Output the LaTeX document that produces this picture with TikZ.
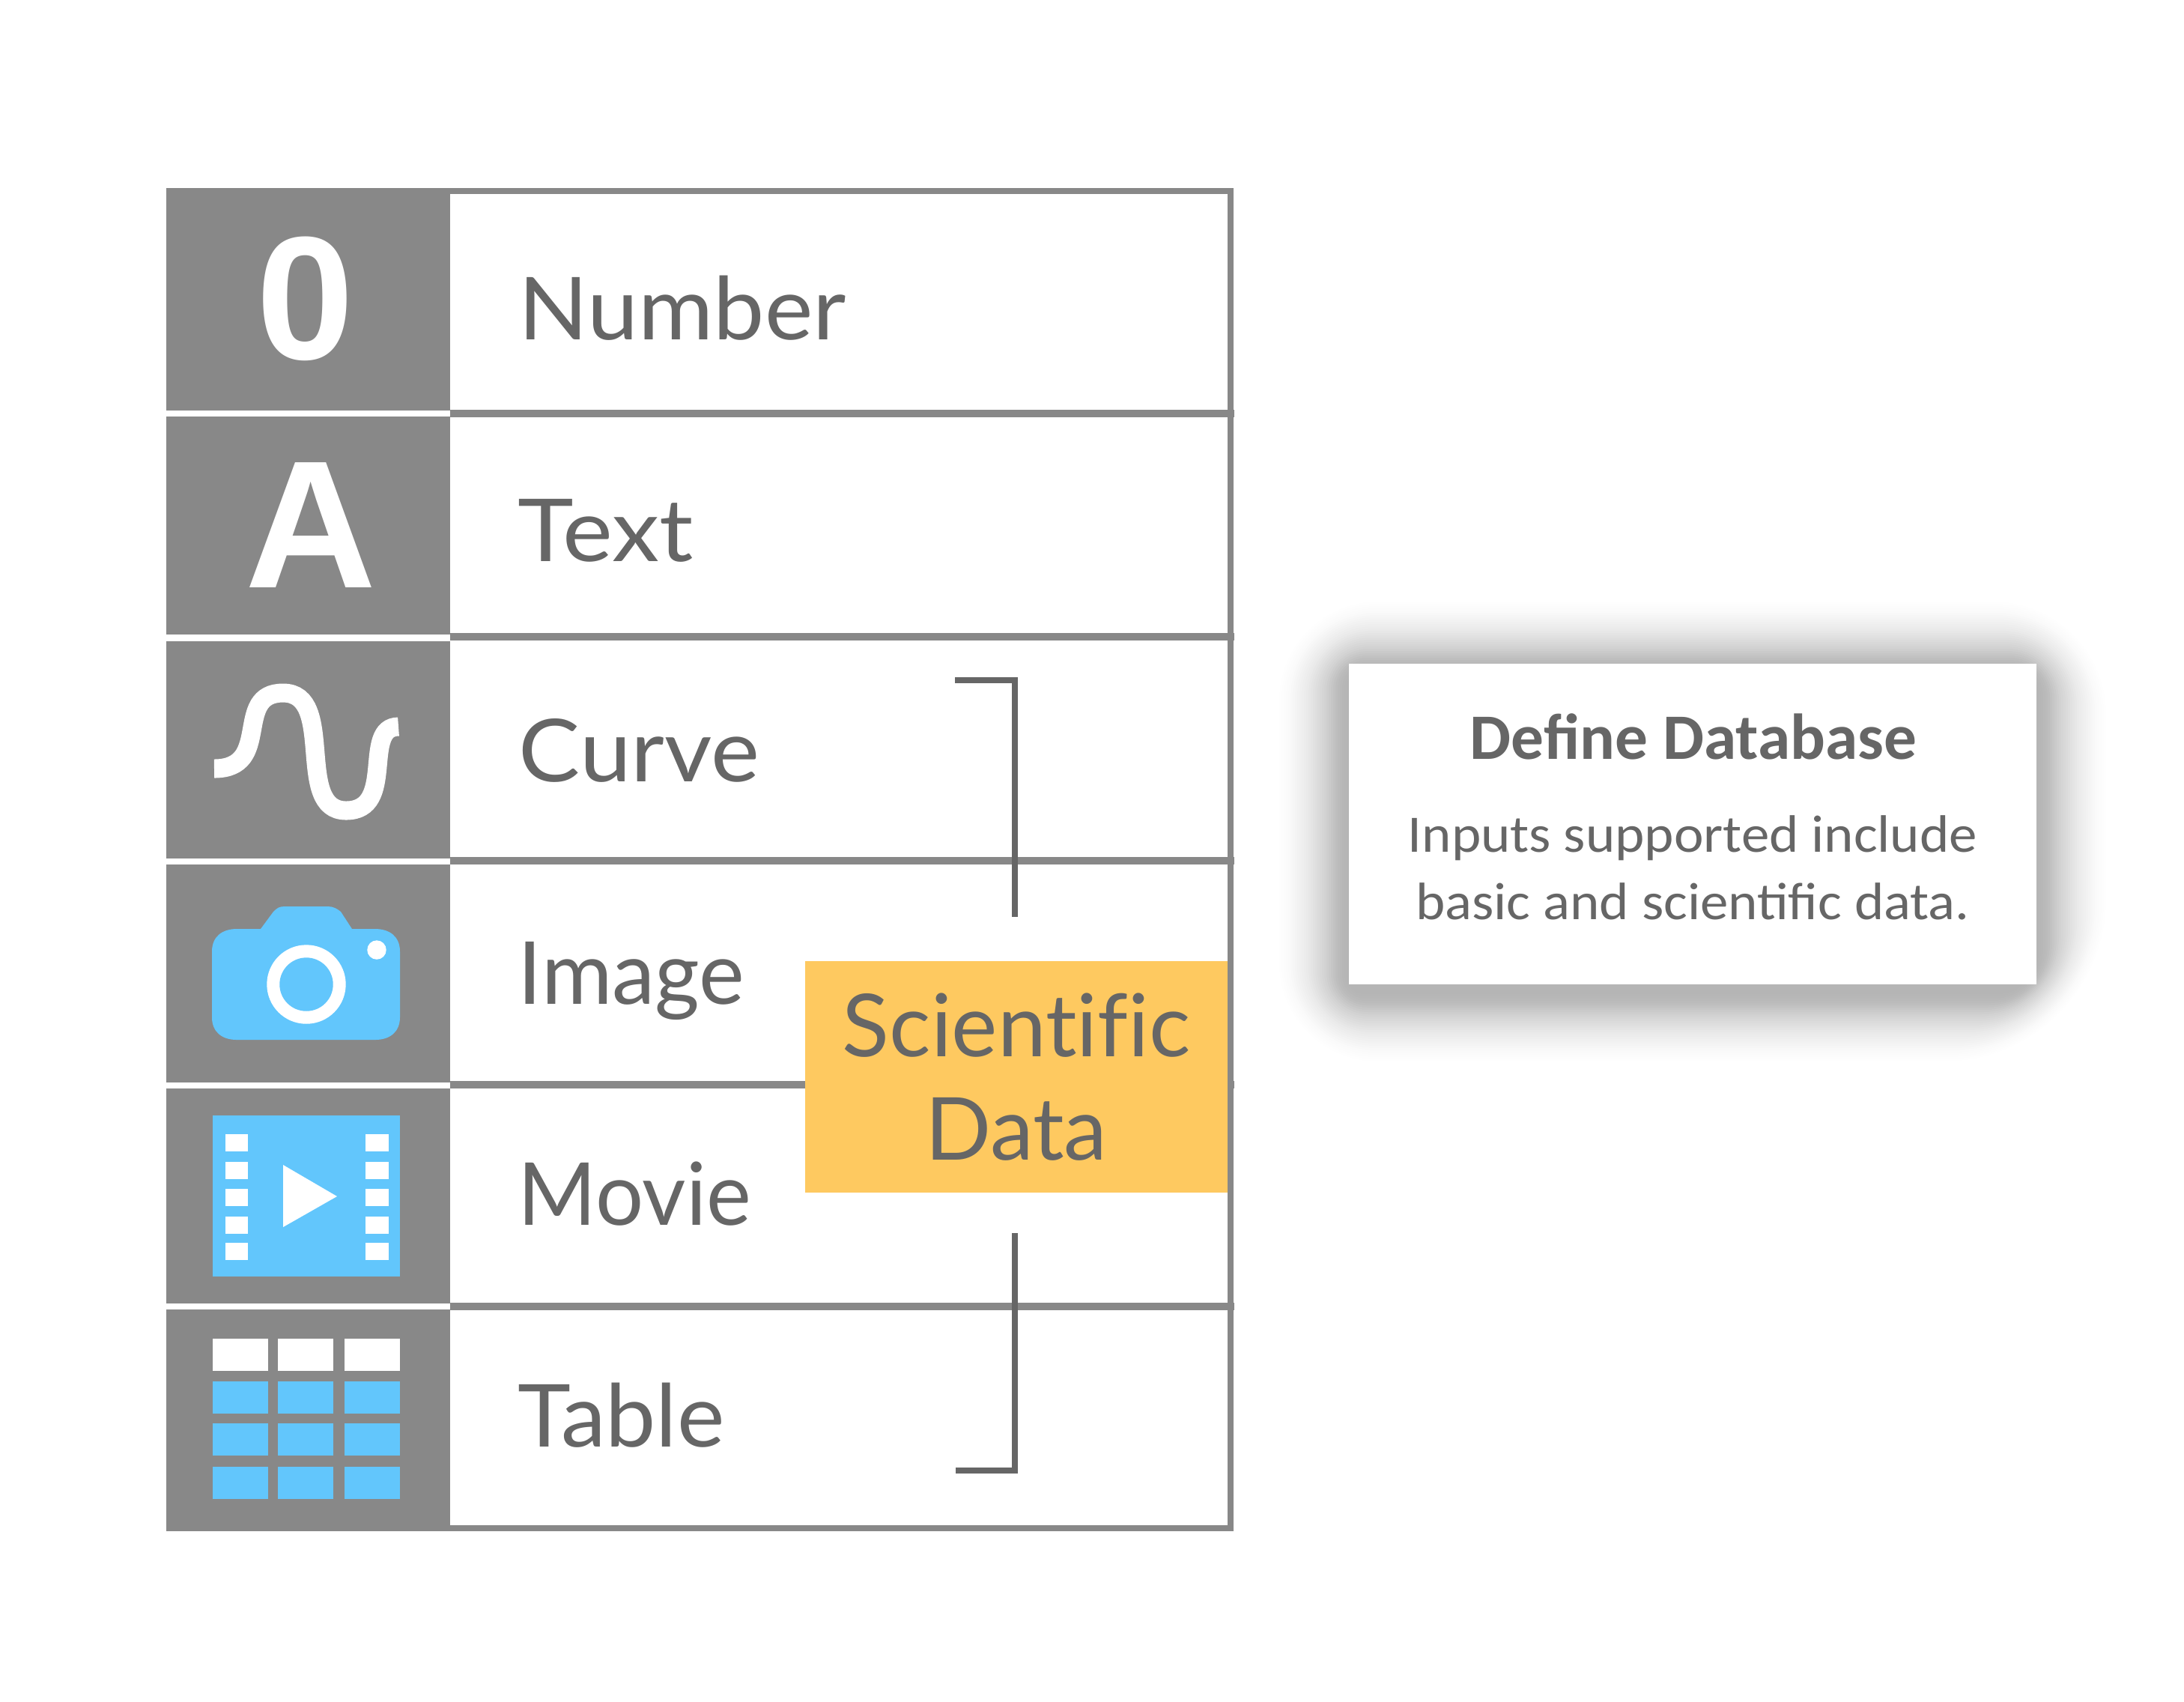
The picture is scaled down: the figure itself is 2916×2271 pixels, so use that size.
\documentclass[tikz,border=0pt]{standalone}
\usepackage{fontspec}
\setmainfont{Carlito}
\newfontfamily\labelfont[Ligatures=NoCommon]{Lato}
\newfontfamily\glyphfont{Liberation Sans}
\definecolor{cellgray}{HTML}{888888}
\definecolor{textgray}{HTML}{666666}
\definecolor{iconblue}{HTML}{62C6FC}
\definecolor{boxyellow}{HTML}{FEC960}
\tikzset{
  rowline/.style={cellgray, line width=0.1cm},
  bracketline/.style={textgray, line width=0.085cm},
  rowlabel/.style={anchor=base west, inner sep=0pt, text=textgray, font=\labelfont\fontsize{33pt}{40pt}\selectfont},
  rowglyph/.style={anchor=base, inner sep=0pt, text=white, font=\glyphfont\bfseries\fontsize{66.6pt}{70pt}\selectfont},
  paneltext/.style={anchor=base, inner sep=0pt, text=textgray, font=\fontsize{20pt}{24pt}\selectfont}
}
\begin{document}
\begin{tikzpicture}[x=0.01cm, y=-0.01cm]
    \useasboundingbox (0, 0) rectangle (2916, 2271);
    % Icon column
    \fill [cellgray] (222, 251) rectangle (601, 548);
    \fill [cellgray] (222, 556) rectangle (601, 847);
    \fill [cellgray] (222, 856) rectangle (601, 1146);
    \fill [cellgray] (222, 1154) rectangle (601, 1445);
    \fill [cellgray] (222, 1453) rectangle (601, 1740);
    \fill [cellgray] (222, 1748) rectangle (601, 2044);
    % Row lines
    \draw [rowline, line width=0.08cm] (601, 255) -- (1647, 255);
    \draw [rowline] (601, 552) -- (1648, 552);
    \draw [rowline] (601, 850) -- (1648, 850);
    \draw [rowline] (601, 1149) -- (1648, 1149);
    \draw [rowline] (601, 1448) -- (1648, 1448);
    \draw [rowline] (601, 1744) -- (1648, 1744);
    \draw [rowline, line width=0.08cm] (601, 2040) -- (1647, 2040);
    \draw [rowline, line width=0.08cm] (1643, 251) -- (1643, 2044);
    % Glyphs
    \node [rowglyph] (zeroglyph) at (408, 479) {0};
    \node [rowglyph, font=\glyphfont\bfseries\fontsize{69pt}{70pt}\selectfont] (aglyph) at (415, 784) {A};
    \draw [white, line width=0.25cm] (286, 1026) .. controls (365, 1026) and (310, 925) .. (378, 925)
        .. controls (450, 925) and (392, 1082) .. (462, 1082)
        .. controls (530, 1082) and (482, 970) .. (532, 970);
    % Camera
    \fill [iconblue] (348, 1240) -- (365, 1217) .. controls (370, 1212) and (373, 1210) .. (380, 1210)
        -- (438, 1210) .. controls (445, 1210) and (450, 1213) .. (455, 1217) -- (470, 1240)
        -- (501, 1240) .. controls (520, 1240) and (534, 1250) .. (534, 1270)
        -- (534, 1358) .. controls (534, 1378) and (520, 1388) .. (501, 1388)
        -- (316, 1388) .. controls (297, 1388) and (283, 1378) .. (283, 1358)
        -- (283, 1270) .. controls (283, 1250) and (297, 1240) .. (316, 1240) -- cycle;
    \filldraw [white] (409, 1314) circle (52);
    \filldraw [iconblue] (409, 1314) circle (35);
    \filldraw [white] (503, 1268) circle (12);
    % Film
    \fill [iconblue] (284, 1489) rectangle (534, 1704);
    \fill [white] (301, 1514) rectangle (331, 1537);
    \fill [white] (301, 1551) rectangle (331, 1574);
    \fill [white] (301, 1587) rectangle (331, 1610);
    \fill [white] (301, 1624) rectangle (331, 1647);
    \fill [white] (301, 1659) rectangle (331, 1682);
    \fill [white] (488, 1514) rectangle (519, 1537);
    \fill [white] (488, 1551) rectangle (519, 1574);
    \fill [white] (488, 1587) rectangle (519, 1610);
    \fill [white] (488, 1624) rectangle (519, 1647);
    \fill [white] (488, 1659) rectangle (519, 1682);
    \fill [white] (378, 1555) -- (450, 1597) -- (378, 1638) -- cycle;
    % Grid
    \fill [white] (284, 1787) rectangle (358, 1830);
    \fill [white] (371, 1787) rectangle (445, 1830);
    \fill [white] (460, 1787) rectangle (534, 1830);
    \fill [iconblue] (284, 1844) rectangle (358, 1887);
    \fill [iconblue] (371, 1844) rectangle (445, 1887);
    \fill [iconblue] (460, 1844) rectangle (534, 1887);
    \fill [iconblue] (284, 1900) rectangle (358, 1943);
    \fill [iconblue] (371, 1900) rectangle (445, 1943);
    \fill [iconblue] (460, 1900) rectangle (534, 1943);
    \fill [iconblue] (284, 1958) rectangle (358, 2001);
    \fill [iconblue] (371, 1958) rectangle (445, 2001);
    \fill [iconblue] (460, 1958) rectangle (534, 2001);
    % Row labels
    \node [rowlabel] (numberlabel) at (692, 453) {\addfontfeature{FakeStretch=1.05}Number};
    \node [rowlabel] (textlabel) at (691, 749) {\addfontfeature{FakeStretch=1.09}Text};
    \node [rowlabel] (curvelabel) at (692, 1043) {\addfontfeature{FakeStretch=1.06}Curve};
    \node [rowlabel] (imagelabel) at (691, 1340) {\addfontfeature{FakeStretch=0.99}Image};
    \node [rowlabel] (movielabel) at (691, 1635) {\addfontfeature{FakeStretch=0.975}Movie};
    \node [rowlabel] (tablelabel) at (691, 1931) {\addfontfeature{FakeStretch=1.035}Table};
    % Bracket
    \coordinate (topfree) at (1275, 908);
    \coordinate (topcorner) at (1355, 908);
    \coordinate (topend) at (1355, 1224);
    \coordinate (bottomfree) at (1276, 1963);
    \coordinate (bottomcorner) at (1355, 1963);
    \coordinate (bottomend) at (1355, 1646);
    \draw [bracketline] (topfree) -- (topcorner) -- (topend);
    \draw [bracketline] (bottomfree) -- (bottomcorner) -- (bottomend);
    % Scientific box
    \node [fill=boxyellow, minimum width=5.64cm, minimum height=3.09cm, inner sep=0pt, align=center, text=textgray,
        font=\labelfont\fontsize{33pt}{39.3pt}\selectfont] (scidata) at (1357, 1437.5) {Scientific\\Data};
    % Panel shadow
    \foreach \d in {3, 6, ..., 93} {
        \pgfmathsetmacro{\shade}{0.01925-0.000162*\d}
        \fill [black, fill opacity=\shade]
            (2260, 896-\d) [rounded corners=\d*0.013cm+0.3cm] -- (2719+\d, 896-\d)
            [rounded corners=\d*0.018cm+0.5cm] -- (2719+\d, 1324+\d)
            [rounded corners=\d*0.012cm+0.2cm] -- (1801-\d, 1324+\d)
            [rounded corners=\d*0.012cm+0.2cm] -- (1801-\d, 896-\d) -- cycle;
    }
    % Panel
    \node [fill=white, minimum width=9.18cm, minimum height=4.28cm, inner sep=0pt] (panel) at (2260, 1100) {};
    \node [paneltext, font=\bfseries\fontsize{24.6pt}{30pt}\selectfont] (paneltitle) at (2261, 1013) {\addfontfeature{FakeStretch=1.01}Define Database};
    \node [paneltext] (panelline) at (2260, 1137) {\addfontfeature{FakeStretch=1.065}Inputs supported include};
    \node [paneltext] (panelnext) at (2260, 1227) {\addfontfeature{FakeStretch=1.065}basic and scientific data.};
\end{tikzpicture}
\end{document}
